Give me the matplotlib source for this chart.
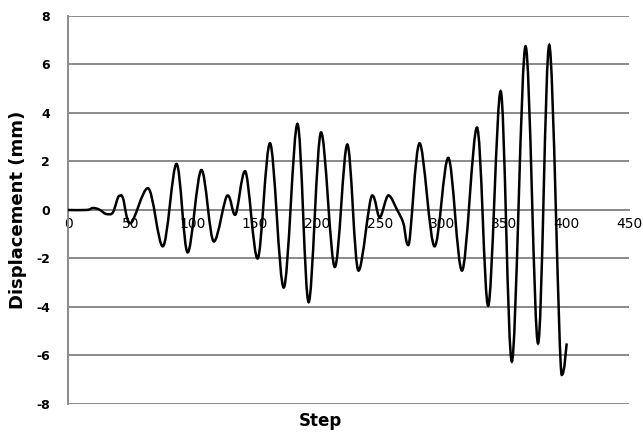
import numpy as np
import matplotlib.pyplot as plt
from matplotlib.path import Path
from matplotlib.patches import PathPatch

# Displacement history (turning points of the curve)
step = [0, 15, 20, 25, 31, 36, 41, 44, 50, 64, 76, 87, 96, 107, 117, 128, 134,
        142, 152, 162, 173, 184, 193, 203, 214, 224, 233, 244, 250, 257, 264,
        269, 273, 282, 294, 305, 316, 328, 337, 347, 356, 367, 377, 386, 396, 400]
disp = [0, 0, 0.08, 0.02, -0.17, -0.1, 0.58, 0.5, -0.55, 0.9, -1.5, 1.9, -1.75,
        1.65, -1.3, 0.6, -0.2, 1.6, -2.0, 2.75, -3.2, 3.55, -3.8, 3.2, -2.35,
        2.7, -2.5, 0.6, -0.3, 0.6, 0.0, -0.55, -1.45, 2.75, -1.5, 2.15, -2.5,
        3.4, -3.95, 4.9, -6.25, 6.75, -5.5, 6.8, -6.8, -5.5]

x_ticks = np.arange(0, 451, 50)
y_ticks = np.arange(-8, 9, 2)

fig = plt.figure(figsize=(6.43, 4.37), dpi=100)
ax = fig.add_axes([0.1058, 0.0755, 0.8725, 0.888])

# smoothed line (bezier through the points, flat tangent at turning points)
pts = np.column_stack([step, disp]).astype(float)
n = len(pts)
tang = np.zeros_like(pts)
for i in range(n):
    a = pts[max(i - 1, 0)]
    b = pts[min(i + 1, n - 1)]
    tang[i] = (b - a) / 2.0
    if 0 < i < n - 1:
        if (pts[i, 1] - a[1]) * (b[1] - pts[i, 1]) < 0:
            tang[i, 1] = 0.0
verts = [pts[0]]
codes = [Path.MOVETO]
for i in range(n - 1):
    verts += [pts[i] + tang[i] / 3.0, pts[i + 1] - tang[i + 1] / 3.0, pts[i + 1]]
    codes += [Path.CURVE4] * 3
ax.add_patch(PathPatch(Path(verts, codes), fill=False, edgecolor='black',
                       lw=1.8, zorder=3))

ax.set_xlim(0, 450)
ax.set_ylim(-8, 8)
ax.set_xticks(x_ticks)
ax.set_yticks(y_ticks)
ax.set_yticklabels([str(v) for v in y_ticks], fontweight='bold', fontsize=9)
ax.set_xticklabels([str(v) for v in x_ticks], fontsize=9, color='#404040')
ax.tick_params(axis='both', length=0)
ax.tick_params(axis='y', pad=13)
ax.tick_params(axis='x', pad=5)

ax.grid(axis='y', color='#8a8a8a', lw=1.4)
ax.set_axisbelow(True)
for s in ['top', 'right']:
    ax.spines[s].set_visible(False)
ax.spines['left'].set_color('#8a8a8a')
ax.spines['left'].set_linewidth(1.4)
ax.spines['bottom'].set_position(('data', 0))
ax.spines['bottom'].set_color('#8a8a8a')
ax.spines['bottom'].set_linewidth(1.4)

ax.set_xlabel('Step', fontsize=12, fontweight='bold')
ax.xaxis.set_label_coords(0.45, -0.02)
ax.set_ylabel('Displacement (mm)', fontsize=13, fontweight='bold')
ax.yaxis.set_label_coords(-0.073, 0.5)

fig.savefig('out.png', dpi=100)
